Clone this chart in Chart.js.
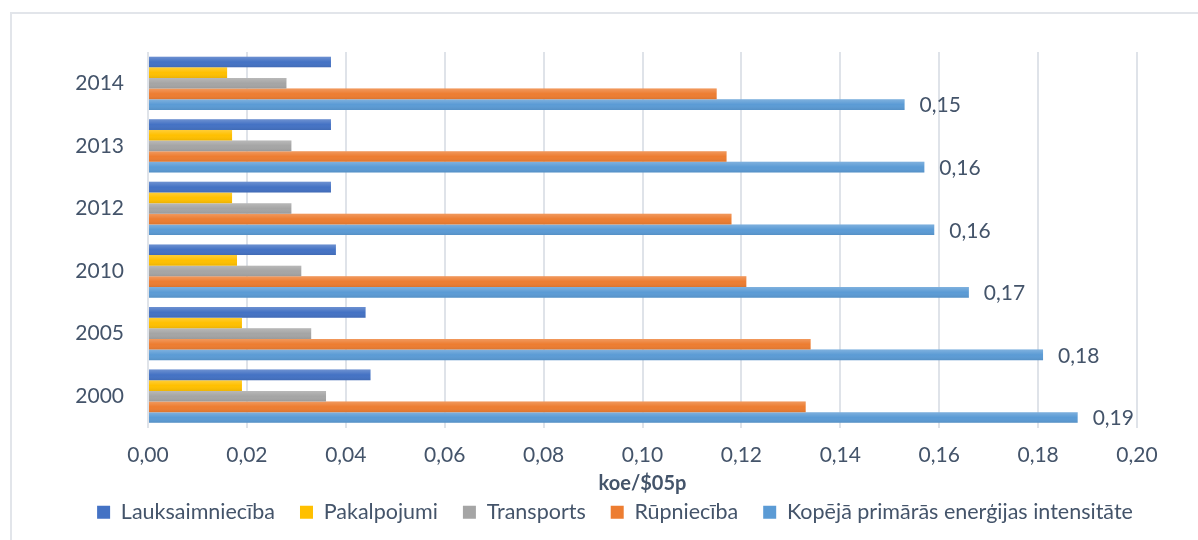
<!DOCTYPE html>
<html lang="lv">
<head>
<meta charset="utf-8">
<title>Enerģijas intensitāte</title>
<script src="https://cdn.jsdelivr.net/npm/chart.js@4/dist/chart.umd.min.js"></script>
<style>
    html, body { margin: 0; padding: 0; background: #fff; }
    #wrap { position: relative; width: 1198px; height: 540px; overflow: hidden; }
    #frame {
        position: absolute; left: 10px; top: 12px; width: 1210px; height: 560px;
        border: 2px solid #e2e5ea; box-sizing: border-box;
    }
    #intensityChart { position: absolute; left: 0; top: 0; }
</style>
</head>
<body>
<div id="wrap">
    <div id="frame"></div>
    <canvas id="intensityChart" width="1198" height="540"></canvas>
</div>
<script>
// gadi no augšas uz leju
const years = ['2014', '2013', '2012', '2010', '2005', '2000'];

const lauksaimnieciba = [0.037, 0.037, 0.037, 0.038, 0.044, 0.045];
const pakalpojumi = [0.016, 0.017, 0.017, 0.018, 0.019, 0.019];
const transports = [0.028, 0.029, 0.029, 0.031, 0.033, 0.036];
const rupnieciba = [0.115, 0.117, 0.118, 0.121, 0.134, 0.133];
const kopeja = [0.153, 0.157, 0.159, 0.166, 0.181, 0.188];

const xTicks = [0, 0.02, 0.04, 0.06, 0.08, 0.10, 0.12, 0.14, 0.16, 0.18, 0.20];

const textColor = '#44546a';
const fontFamily = 'Lato, "Open Sans", sans-serif';

const fmt = (v) => v.toFixed(2).replace('.', ',');

// viegls gradients katram stabiņam (gaišāks augšā, tumšāks apakšā)
const barShade = {
    id: 'barShade',
    afterDatasetsDraw(chart) {
        const ctx = chart.ctx;
        chart.data.datasets.forEach((ds, i) => {
            const meta = chart.getDatasetMeta(i);
            meta.data.forEach((bar) => {
                const top = bar.y - bar.height / 2;
                const g = ctx.createLinearGradient(0, top, 0, top + bar.height);
                g.addColorStop(0, 'rgba(255,255,255,0.22)');
                g.addColorStop(0.5, 'rgba(255,255,255,0)');
                g.addColorStop(1, 'rgba(0,0,0,0.08)');
                ctx.save();
                ctx.fillStyle = g;
                ctx.fillRect(bar.base, top, bar.x - bar.base, bar.height);
                ctx.restore();
            });
        });
    },
};

// vērtības tikai kopējai intensitātei
const totalLabels = {
    id: 'totalLabels',
    afterDatasetsDraw(chart) {
        const ctx = chart.ctx;
        const idx = chart.data.datasets.length - 1;
        const meta = chart.getDatasetMeta(idx);
        ctx.save();
        ctx.font = '21px ' + fontFamily;
        ctx.fillStyle = textColor;
        ctx.textAlign = 'left';
        ctx.textBaseline = 'middle';
        meta.data.forEach((bar, j) => {
            ctx.fillText(fmt(chart.data.datasets[idx].data[j]), bar.x + 15, bar.y + 1);
        });
        ctx.restore();
    },
};

const series = [
    { label: 'Lauksaimniecība', data: lauksaimnieciba, color: '#4472c4' },
    { label: 'Pakalpojumi', data: pakalpojumi, color: '#ffc000' },
    { label: 'Transports', data: transports, color: '#a5a5a5' },
    { label: 'Rūpniecība', data: rupnieciba, color: '#ed7d31' },
    { label: 'Kopējā primārās enerģijas intensitāte', data: kopeja, color: '#5b9bd5' },
];

new Chart(document.getElementById('intensityChart'), {
    type: 'bar',
    data: {
        labels: years,
        datasets: series.map((s) => ({
            label: s.label,
            data: s.data,
            backgroundColor: s.color,
            borderWidth: 0,
            categoryPercentage: 0.85,
            barPercentage: 1.0,
        })),
    },
    options: {
        indexAxis: 'y',
        responsive: false,
        animation: false,
        layout: { padding: { left: 36, right: 4, top: 52, bottom: 7 } },
        plugins: {
            legend: {
                position: 'bottom',
                labels: {
                    color: textColor,
                    font: { family: fontFamily, size: 21.5 },
                    boxWidth: 13,
                    boxHeight: 13,
                    padding: 25,
                },
            },
            tooltip: { enabled: false },
        },
        scales: {
            x: {
                min: 0,
                max: 0.2,
                afterBuildTicks: (scale) => {
                    scale.ticks = xTicks.map((v) => ({ value: v }));
                },
                afterFit: (scale) => { scale.height = 49; },
                ticks: {
                    color: textColor,
                    font: { family: fontFamily, size: 21 },
                    padding: 15,
                    callback: (v) => fmt(v),
                },
                grid: { color: '#dfe3e9', lineWidth: 2, drawTicks: false },
                border: { display: false },
                title: {
                    display: true,
                    text: 'koe/$05p',
                    color: textColor,
                    font: { family: fontFamily, size: 20, weight: 'bold' },
                    padding: { top: 0, bottom: -19 },
                },
            },
            y: {
                afterFit: (scale) => { scale.width = 112; },
                ticks: {
                    color: textColor,
                    font: { family: fontFamily, size: 21 },
                    padding: 16,
                },
                grid: { display: false },
                border: { display: false },
            },
            // tukša labā ass, lai zīmēšanas laukums beigtos pie 0,20
            yRight: {
                type: 'category',
                axis: 'y',
                position: 'right',
                labels: years,
                afterFit: (scale) => { scale.width = 57; },
                ticks: { display: false },
                grid: { display: false },
                border: { display: false },
            },
        },
    },
    plugins: [barShade, totalLabels],
});
</script>
</body>
</html>
